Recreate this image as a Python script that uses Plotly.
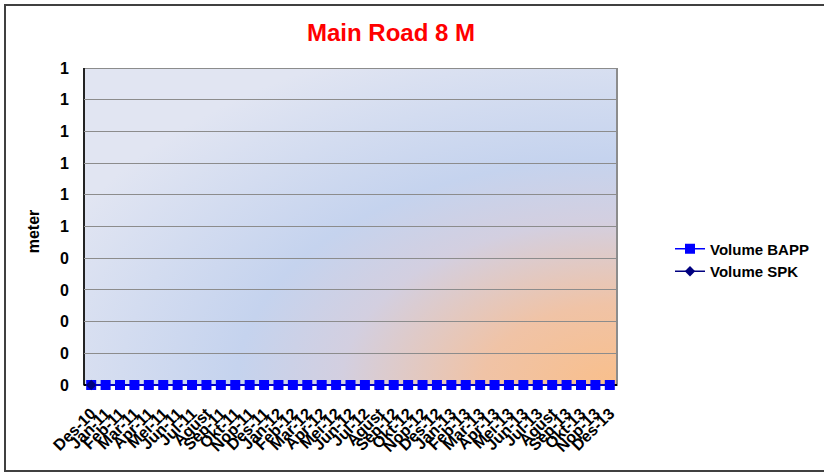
import base64
import plotly.graph_objects as go

categories = ["Des-10", "Jan-11", "Feb-11", "Mar-11", "Apr-11", "Mei-11", "Jun-11", "Jul-11",
              "Agust", "Sep-11", "Okt-11", "Nop-11", "Des-11", "Jan-12", "Feb-12", "Mar-12",
              "Apr-12", "Mei-12", "Jun-12", "Jul-12", "Agust", "Sep-12", "Okt-12", "Nop-12",
              "Des-12", "Jan-13", "Feb-13", "Mar-13", "Apr-13", "Mei-13", "Jun-13", "Jul-13",
              "Agust", "Sep-13", "Okt-13", "Nop-13", "Des-13"]
volume_bapp = [0] * len(categories)
volume_spk = [0] + [None] * (len(categories) - 1)
y_tick_values = [0, 0.1, 0.2, 0.3, 0.4, 0.5, 0.6, 0.7, 0.8, 0.9, 1.0]
y_tick_labels = ["0", "0", "0", "0", "0", "1", "1", "1", "1", "1", "1"]

x_pos = list(range(len(categories)))

# layout geometry (pixels)
W, H = 824, 472
L, R, T, B = 84, 207, 68, 77          # plot region extends 10px below the value axis origin
PAD = 10
PH = H - T - B
Y_MIN, Y_MAX = 0, 1
DATA_PX = PH - PAD
Y_LOW = Y_MIN - (Y_MAX - Y_MIN) * PAD / DATA_PX

svg = """<svg xmlns='http://www.w3.org/2000/svg' width='533' height='317' preserveAspectRatio='none' viewBox='0 0 533 317'>
<defs><radialGradient id='g' cx='1' cy='1' r='1.15' gradientUnits='objectBoundingBox'>
<stop offset='0' stop-color='#f9bf8b'/>
<stop offset='0.22' stop-color='#f0c3a6'/>
<stop offset='0.45' stop-color='#d3cfe0'/>
<stop offset='0.62' stop-color='#c5d3ee'/>
<stop offset='1' stop-color='#e1e5f2'/>
</radialGradient></defs>
<rect x='0' y='0' width='533' height='317' fill='url(#g)'/>
</svg>"""
img_src = "data:image/svg+xml;base64," + base64.b64encode(svg.encode()).decode()

FONT = "Liberation Sans, Arial, sans-serif"

fig = go.Figure()
fig.add_trace(go.Scatter(
    x=x_pos, y=volume_bapp, name="<b>Volume BAPP</b>", mode="lines+markers",
    line=dict(color="#0000ff", width=1.5),
    marker=dict(symbol="square", size=10, color="#0000ff"),
    cliponaxis=False,
))
fig.add_trace(go.Scatter(
    x=x_pos, y=volume_spk, name="<b>Volume SPK</b>", mode="lines+markers",
    line=dict(color="#000080", width=1.5),
    marker=dict(symbol="diamond", size=8, color="#000080"),
    cliponaxis=False,
))


def py(p):
    return (H - B - p) / PH


def px(p):
    return (p - L) / (W - L - R)


fig.update_layout(
    width=W, height=H,
    margin=dict(l=L, r=R, t=T, b=B, autoexpand=False),
    paper_bgcolor="white", plot_bgcolor="rgba(0,0,0,0)",
    title=dict(text="<b>Main Road 8 M</b>", font=dict(family=FONT, size=24, color="#ff0000"),
               x=391 / W, xanchor="center", xref="container", y=1 - 33 / H, yanchor="middle"),
    font=dict(family=FONT, color="black"),
    showlegend=True,
    legend=dict(x=px(670), xanchor="left", y=py(260), yanchor="middle",
                font=dict(family=FONT, size=15, color="black"), bgcolor="rgba(0,0,0,0)",
                tracegroupgap=0, itemwidth=30),
    images=[dict(source=img_src, xref="paper", yref="y", x=0, y=Y_MAX, sizex=1,
                 sizey=Y_MAX - Y_MIN, xanchor="left", yanchor="top", sizing="stretch",
                 layer="below")],
    shapes=[
        dict(type="rect", xref="paper", yref="y", x0=0, x1=1, y0=Y_MIN, y1=Y_MAX,
             line=dict(color="#8c8c8c", width=2), fillcolor="rgba(0,0,0,0)", layer="below"),
        dict(type="line", xref="paper", yref="y", x0=0, x1=0, y0=Y_MIN, y1=Y_MAX,
             line=dict(color="black", width=1.5), layer="below"),
        dict(type="rect", xref="paper", yref="paper",
             x0=px(5), x1=px(832), y0=py(471), y1=py(5),
             line=dict(color="#404040", width=2), fillcolor="rgba(0,0,0,0)", layer="above"),
    ],
    xaxis=dict(
        range=[-0.5, len(categories) - 0.5], automargin=False,
        tickmode="array", tickvals=x_pos, ticktext=[f"<b>{c}</b>" for c in categories],
        tickangle=-45, tickfont=dict(family=FONT, size=16, color="black"),
        showgrid=False, zeroline=False, showline=False,
        ticks="", ticklabelstandoff=5,
    ),
    yaxis=dict(
        range=[Y_LOW, Y_MAX], automargin=False, layer="below traces",
        tickmode="array", tickvals=y_tick_values, ticktext=[f"<b>{t}</b>" for t in y_tick_labels],
        tickfont=dict(family=FONT, size=16, color="black"),
        showgrid=True, gridcolor="#8c8c8c", gridwidth=1,
        zeroline=True, zerolinecolor="black", zerolinewidth=1.5,
        showline=False,
        ticks="", ticklabelstandoff=14,
        title=dict(text="<b>meter</b>", font=dict(family=FONT, size=16, color="black"), standoff=16),
    ),
)

fig.write_html("out.html", config={"displayModeBar": False},
               post_script="document.body.style.margin='0';")
